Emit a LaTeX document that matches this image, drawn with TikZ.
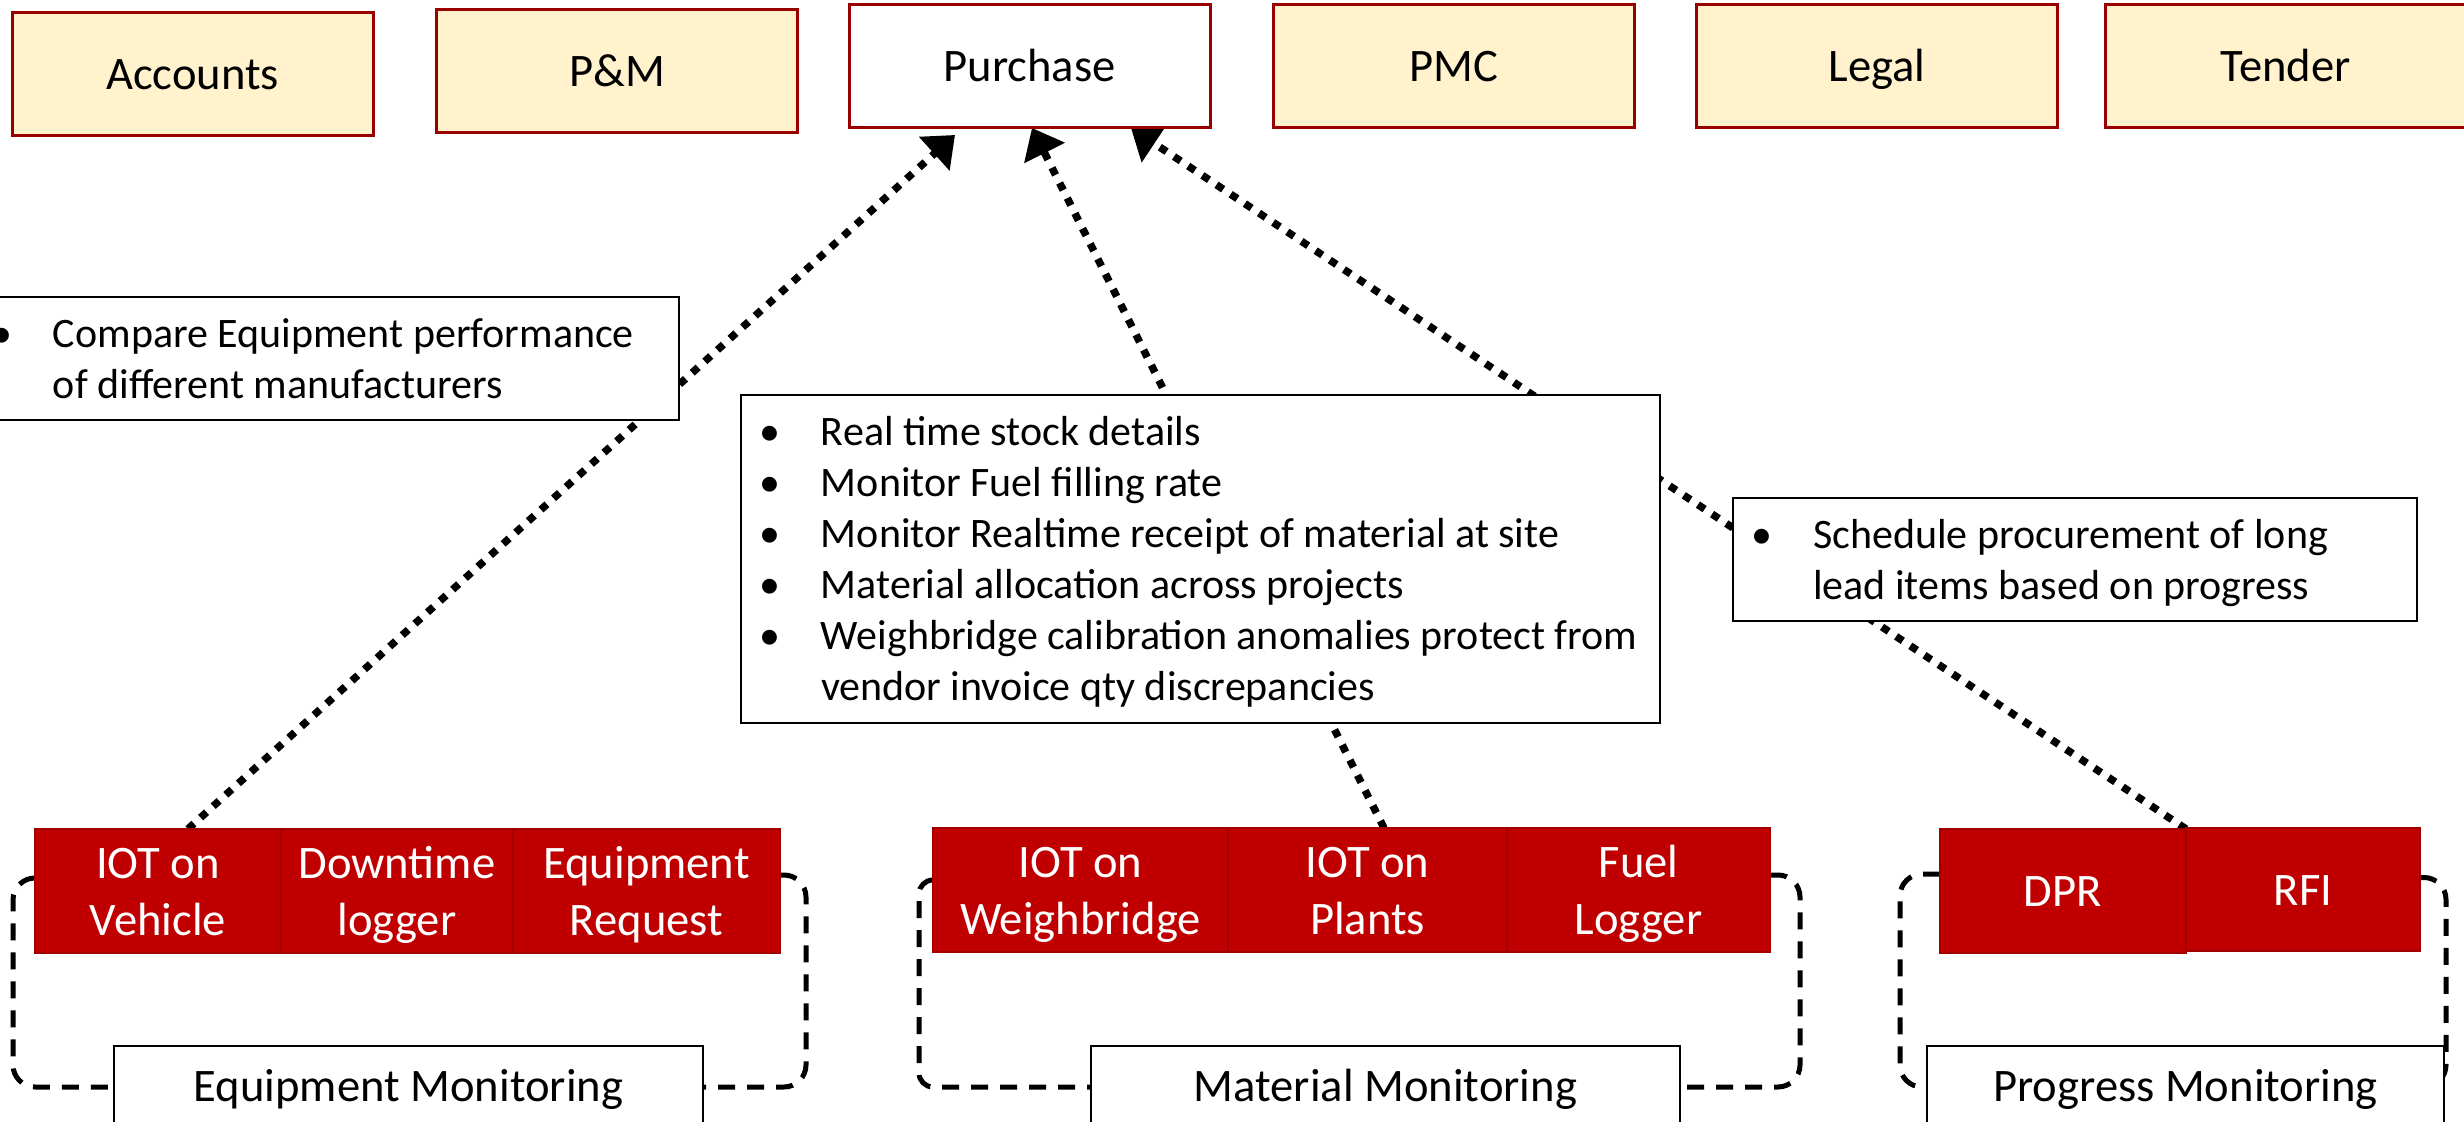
\documentclass[tikz,border=0pt]{standalone}
\usepackage{fontspec}
\setmainfont{Carlito}
\usetikzlibrary{arrows.meta}
\pgfdeclarelayer{bg}
\pgfsetlayers{bg,main}
\definecolor{topfill}{HTML}{FFF2CC}
\definecolor{topline}{HTML}{990000}
\definecolor{cellfill}{HTML}{C00000}
\definecolor{cellline}{HTML}{A00000}
\newcommand\twol[2]{\rule{0pt}{21.5pt}#1\\#2\rule[-6pt]{0pt}{6pt}}
\newcommand\notetab[2]{\makebox[#1][l]{\begin{tabular}[t]{@{}p{31pt}@{}l@{}}#2\end{tabular}}}
\begin{document}
\begin{tikzpicture}[x=0.5pt,y=-0.5pt,
 every node/.style={outer sep=0pt},
 dept/.style={draw=topline, line width=1.5pt, fill=topfill, minimum width=180.5pt, minimum height=61.5pt, inner sep=0pt, text height=21.5pt, text depth=6pt, font=\fontsize{23.3pt}{28.5pt}\selectfont},
 cell/.style={draw=cellline, line width=0.8pt, fill=cellfill, text=white, minimum height=62pt, inner sep=0pt, align=center, font=\fontsize{23.3pt}{28.5pt}\selectfont},
 monbox/.style={draw=black, line width=1.4pt, fill=white, anchor=north, text height=27.5pt, text depth=34.5pt, inner ysep=0pt, inner xsep=0pt, font=\fontsize{23.3pt}{28.5pt}\selectfont},
 notebox/.style={draw=black, line width=1pt, fill=white, inner xsep=9pt, inner ysep=0pt, text height=25.25pt, font=\fontsize{21pt}{25.5pt}\selectfont},
 dotarrow/.style={line width=3.75pt, dash pattern=on 4pt off 4.5pt, -{Triangle[width=22pt,length=14pt]}},
 loopline/.style={line width=2.5pt, dash pattern=on 8.5pt off 6pt, rounded corners=11pt},
]
\useasboundingbox (0,0) rectangle (2464,1122);

% top departments
\node[dept] (acc) at (192.5,74) {Accounts};
\node[dept] (pm) at (617,71) {P\&M};
\node[dept, fill=white] (pur) at (1029.5,66.5) {Purchase};
\node[dept] (pmc) at (1453.5,66.5) {PMC};
\node[dept] (legal) at (1877,66.5) {Legal};
\node[dept] (tender) at (2285.5,66.5) {Tender};

% red cells
\node[cell, minimum width=123pt] (veh) at (158,891) {\twol{IOT on}{Vehicle}};
\node[cell, minimum width=116pt] (down) at (397,891) {\twol{Downtime}{logger}};
\node[cell, minimum width=133.5pt] (ereq) at (646.5,891) {\twol{Equipment}{Request}};
\node[cell, minimum width=147.5pt] (wb) at (1080.5,890) {\twol{IOT on}{Weighbridge}};
\node[cell, minimum width=139.5pt] (plants) at (1367.5,890) {\twol{IOT on}{Plants}};
\node[cell, minimum width=131.5pt] (fuel) at (1638.5,890) {\twol{Fuel}{Logger}};
\node[cell, minimum width=123pt, text height=21.5pt, text depth=6pt] (dpr) at (2063,891) {DPR};
\node[cell, minimum width=117pt, minimum height=61.5pt, text height=21.5pt, text depth=6pt] (rfi) at (2303,889.5) {RFI};

% monitoring boxes
\node[monbox, minimum width=294.5pt] (eqmon) at (408.5,1046) {Equipment Monitoring};
\node[monbox, minimum width=294.5pt] (matmon) at (1385.5,1046) {Material Monitoring};
\node[monbox, minimum width=258.5pt] (promon) at (2185.5,1046) {Progress Monitoring};

% note boxes
\node[notebox, text depth=36.25pt] (n1) at (326,358.5)
 {\notetab{335pt}{•&Compare Equipment performance\\&of different manufacturers}};
\node[notebox, text depth=138.75pt] (n2) at (1200.5,559)
 {\notetab{441.5pt}{•&Real time stock details\\
  •&Monitor Fuel filling rate\\
  •&Monitor Realtime receipt of material at site\\
  •&Material allocation across projects\\
  •&Weighbridge calibration anomalies protect from\\
  &vendor invoice qty discrepancies}};
\node[notebox, text depth=36.25pt] (n3) at (2075,559.5)
 {\notetab{324pt}{•&Schedule procurement of long\\&lead items based on progress}};

\begin{pgfonlayer}{bg}
\draw[dotarrow] ([xshift=15pt]veh.north) -- ([xshift=-37.25pt,yshift=-3.5pt]pur.south);
\draw[dotarrow] ([xshift=8.25pt]plants.north) -- ([xshift=1.25pt]pur.south);
\draw[dotarrow] (dpr.north east) -- ([xshift=50.75pt]pur.south);

\draw[loopline] ([yshift=6.5pt]veh.west) -- ++(-11pt,0) |- ([yshift=-20.5pt]eqmon.north west);
\draw[loopline] ([yshift=8pt]ereq.east) -- ++(13pt,0) |- ([yshift=-20.5pt]eqmon.north east);
\draw[loopline, rounded corners=7pt] ([yshift=5pt]wb.west) -- ++(-7pt,0) |- ([yshift=-20.5pt]matmon.north west);
\draw[loopline] ([yshift=7.5pt]fuel.east) -- ++(15pt,0) |- ([yshift=-20.5pt]matmon.north east);
\draw[loopline] ([yshift=8.5pt]dpr.west) -- ++(-20pt,0) |- ([yshift=-20.5pt]promon.north west);
\draw[loopline] ([yshift=6pt]rfi.east) -- ++(13pt,0) |- ([yshift=-20.5pt]promon.north east);
\end{pgfonlayer}
\end{tikzpicture}
\end{document}
